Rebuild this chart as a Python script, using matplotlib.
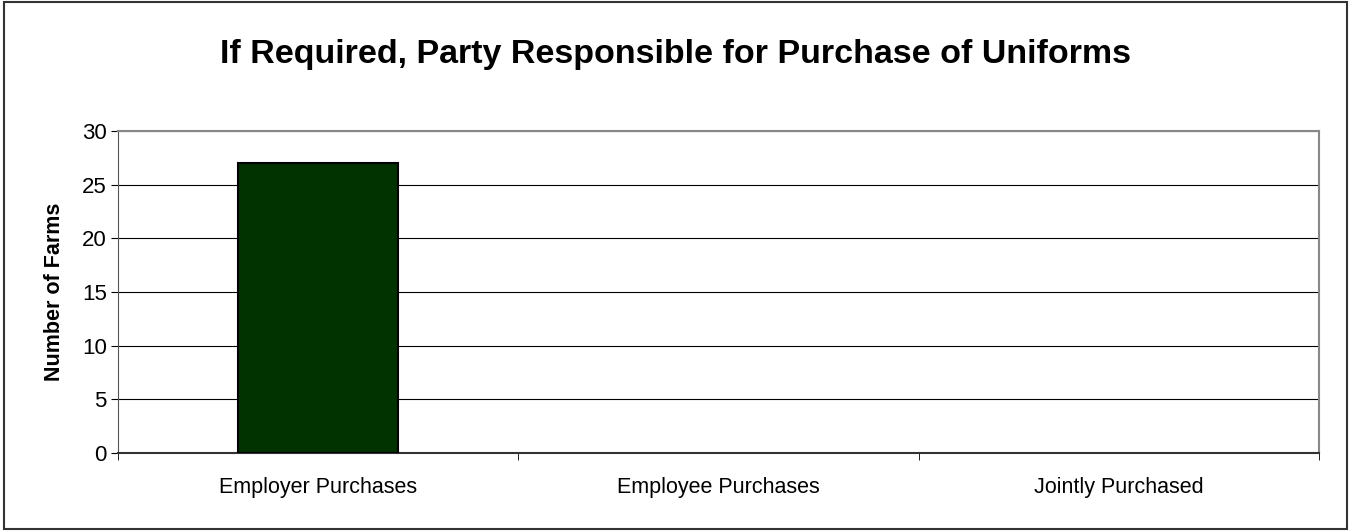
import numpy as np
import matplotlib.pyplot as plt
from matplotlib.patches import Rectangle

categories = ['Employer Purchases', 'Employee Purchases', 'Jointly Purchased']
farms = [27, 0, 0]
yticks = [0, 5, 10, 15, 20, 25, 30]

plt.rcParams['font.family'] = ['Liberation Sans', 'DejaVu Sans']

fig = plt.figure(figsize=(13.51, 5.31), dpi=100)
fig.patches.append(Rectangle((0.003, 0.004), 0.994, 0.992, transform=fig.transFigure,
                             fill=False, edgecolor='#333333', linewidth=1.5))

ax = fig.add_axes([0.0873, 0.1469, 0.8890, 0.6064])
x = np.arange(len(categories))
edges = [1.5 if v > 0 else 0 for v in farms]
ax.bar(x, farms, width=0.4, color='#003300', edgecolor='black', linewidth=edges, zorder=3)

ax.set_xlim(-0.5, len(categories) - 0.5)
ax.set_ylim(0, 30)
ax.set_yticks(yticks)
ax.yaxis.grid(True, color='black', linewidth=0.8, zorder=0)

ax.set_xticks(x)
ax.set_xticklabels(categories, fontsize=15.5)
ax.tick_params(axis='x', length=0, pad=17)
ax.set_xticks(np.arange(len(categories) + 1) - 0.5, minor=True)
ax.tick_params(axis='x', which='minor', length=5, direction='out')
ax.tick_params(axis='y', length=5, direction='out', labelsize=16, pad=3)

for side in ['top', 'right']:
    ax.spines[side].set_color('#888888')
    ax.spines[side].set_linewidth(1.5)
ax.spines['left'].set_color('#555555')
ax.spines['bottom'].set_color('#333333')
ax.spines['bottom'].set_linewidth(1.5)

ax.set_ylabel('Number of Farms', fontsize=15.5, fontweight='bold', labelpad=12)
fig.text(0.5, 0.897, 'If Required, Party Responsible for Purchase of Uniforms',
         ha='center', va='center', fontsize=24.5, fontweight='bold')

fig.savefig('out.png', dpi=100)
